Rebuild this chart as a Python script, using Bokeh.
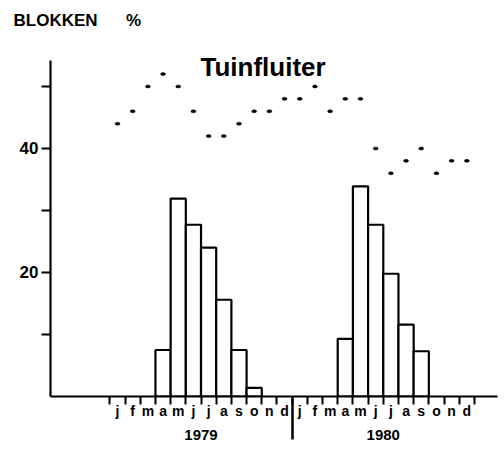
from bokeh.plotting import figure
from bokeh.models import Range1d, FixedTicker, LinearAxis, Label, Title
from bokeh.embed import file_html
from bokeh.resources import INLINE

# ---- data ----
month_letters = ["j", "f", "m", "a", "m", "j", "j", "a", "s", "o", "n", "d"]
years = ["1979", "1980"]
# months (0 = jan 1979) with a bar, and bar heights (%)
bar_months_1979 = [3, 4, 5, 6, 7, 8, 9]
bar_values_1979 = [7.5, 31.9, 27.7, 24.0, 15.6, 7.5, 1.4]
bar_months_1980 = [15, 16, 17, 18, 19, 20]
bar_values_1980 = [9.3, 33.9, 27.7, 19.8, 11.6, 7.3]
# monthly dots (%), jan 1979 .. dec 1980
dot_values = [44, 46, 50, 52, 50, 46, 42, 42, 44, 46, 46, 48,
              48, 50, 46, 48, 48, 40, 36, 38, 40, 36, 38, 38]
y_ticks = [10, 20, 30, 40, 50]
y_tick_labels = ["", "20", "", "40", ""]
y_axis_top = 54.2

FONT = "Liberation Sans"
n_months = len(month_letters) * len(years)

p = figure(width=502, height=450,
           x_range=Range1d(-3.91, 25.52), y_range=Range1d(0, 55.8),
           min_border_left=50, min_border_right=5,
           min_border_top=50, min_border_bottom=54,
           output_backend="svg", toolbar_location=None)
p.xaxis.visible = False
p.yaxis.visible = False
p.grid.visible = False
p.outline_line_color = None
p.background_fill_color = "white"
p.border_fill_color = "white"

# bars
bar_x = [m + 0.5 for m in bar_months_1979 + bar_months_1980]
bar_top = bar_values_1979 + bar_values_1980
p.vbar(x=bar_x, top=bar_top, bottom=0, width=1.0,
       fill_color="white", line_color="black", line_width=2.2)

# dots
dot_x = [i + 0.5 for i in range(n_months)]
p.ellipse(x=dot_x, y=dot_values, width=5, height=3,
          width_units="screen", height_units="screen",
          fill_color="black", line_color="black", line_width=0.5)

# y axis
yax = LinearAxis(ticker=FixedTicker(ticks=y_ticks, minor_ticks=[]),
                 bounds=(0, y_axis_top))
yax.major_label_overrides = {t: l for t, l in zip(y_ticks, y_tick_labels)}
yax.axis_line_width = 2.2
yax.major_tick_line_width = 2.2
yax.major_tick_out = 9
yax.major_tick_in = 0
yax.minor_tick_line_color = None
yax.major_label_standoff = 3
yax.major_label_text_font = FONT
yax.major_label_text_font_style = "bold"
yax.major_label_text_font_size = "17px"
yax.major_label_text_color = "black"
p.add_layout(yax, "left")

# x axis: months
centers = [i + 0.5 for i in range(n_months)]
bounds = list(range(n_months + 1))
xax = LinearAxis(ticker=FixedTicker(ticks=centers, minor_ticks=bounds))
xax.major_label_overrides = {c: month_letters[i % 12] for i, c in enumerate(centers)}
xax.axis_line_width = 2.2
xax.major_tick_line_color = None
xax.major_tick_out = 0
xax.major_tick_in = 0
xax.minor_tick_line_width = 2
xax.minor_tick_out = 8
xax.minor_tick_in = 0
xax.major_label_standoff = -2
xax.major_label_text_font = FONT
xax.major_label_text_font_style = "bold"
xax.major_label_text_font_size = "14px"
xax.major_label_text_color = "black"
p.add_layout(xax, "below")

# x axis: years (the minor tick is the year separator)
year_centers = [6 + 12 * i for i in range(len(years))]
year_bounds = [12 * i for i in range(1, len(years))]
yrax = LinearAxis(ticker=FixedTicker(ticks=year_centers, minor_ticks=year_bounds))
yrax.major_label_overrides = {c: y for c, y in zip(year_centers, years)}
yrax.axis_line_color = None
yrax.major_tick_line_color = None
yrax.major_tick_out = 0
yrax.major_tick_in = 0
yrax.minor_tick_line_color = "black"
yrax.minor_tick_line_width = 2.5
yrax.minor_tick_in = 23
yrax.minor_tick_out = 18
yrax.major_label_standoff = -10
yrax.major_label_text_font = FONT
yrax.major_label_text_font_style = "bold"
yrax.major_label_text_font_size = "15px"
yrax.major_label_text_color = "black"
p.add_layout(yrax, "below")

# texts
p.add_layout(Title(text="BLOKKEN\u00a0\u00a0\u00a0\u00a0\u00a0\u00a0%\n\u00a0", align="left",
                   offset=-37, standoff=4, text_font=FONT, text_font_style="bold",
                   text_font_size="17px", text_color="black"), "above")
p.add_layout(Label(x=150, y=330, x_units="screen", y_units="screen",
                   text="Tuinfluiter", text_font=FONT, text_font_style="bold",
                   text_font_size="26px", text_baseline="alphabetic",
                   text_color="black"))

open("out.html", "w").write(file_html(p, INLINE))
